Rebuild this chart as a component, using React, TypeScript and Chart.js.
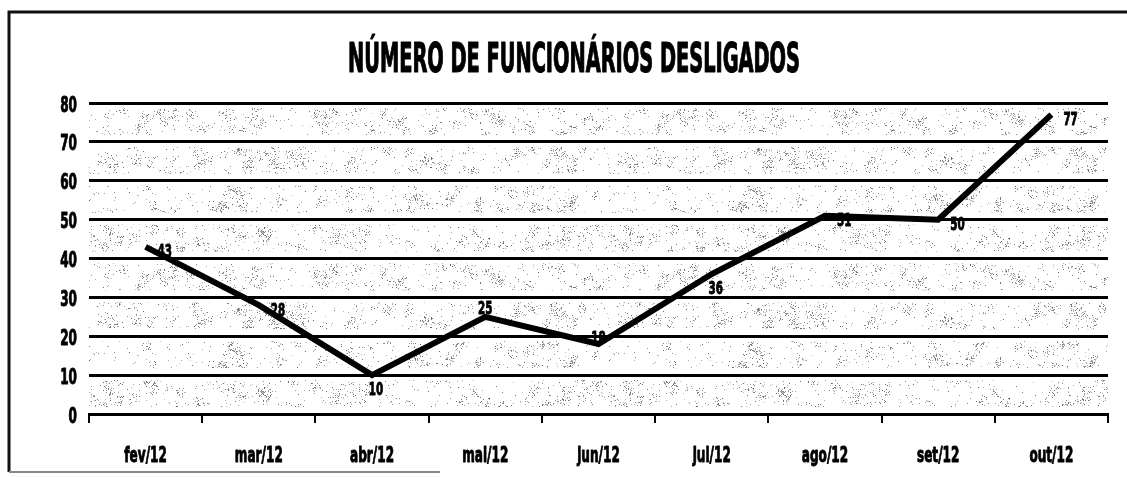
import React, { useEffect, useRef } from "react";
import { Chart, registerables } from "chart.js";

Chart.register(...registerables);

const TITLE = "NÚMERO DE FUNCIONÁRIOS DESLIGADOS";
const categories = ["fev/12", "mar/12", "abr/12", "mai/12", "jun/12", "jul/12", "ago/12", "set/12", "out/12"];
const desligados = [43, 28, 10, 25, 18, 36, 51, 50, 77];
const yMin = 0;
const yMax = 80;
const yStep = 10;

const FONT = "'Liberation Sans Narrow', 'DejaVu Sans Condensed', 'Arial Narrow', sans-serif";
const SX = 0.64; // horizontal squeeze of the small labels (style)
// where each value label sits relative to its point (style only)
const labelPlacement = ["right", "right", "below", "above", "center", "below", "right", "right", "right"];

function makeSpeckle(ctx: CanvasRenderingContext2D) {
  const W = 520;
  const H = 160;
  const tile = document.createElement("canvas");
  tile.width = W;
  tile.height = H;
  const t = tile.getContext("2d")!;
  let s = 987654321;
  const rnd = () => {
    s = (Math.imul(s, 1103515245) + 12345) >>> 0;
    return s / 4294967296;
  };
  const dot = (x: number, y: number) => {
    const g = 100 + Math.floor(rnd() * 100);
    t.fillStyle = `rgb(${g},${g},${g})`;
    t.fillRect(((Math.floor(x) % W) + W) % W, ((Math.floor(y) % H) + H) % H, 1, 1);
  };
  for (let c = 0; c < 300; c++) {
    const cx = rnd() * W;
    const cy = rnd() * H;
    const n = 6 + Math.floor(rnd() * 14);
    for (let k = 0; k < n; k++) {
      dot(cx + (rnd() + rnd() - 1) * 7, cy + (rnd() + rnd() - 1) * 7);
    }
  }
  for (let i = 0; i < 1400; i++) dot(rnd() * W, rnd() * H);
  return ctx.createPattern(tile, "repeat");
}

function squeezedText(ctx: CanvasRenderingContext2D, text: string, x: number, y: number, align: CanvasTextAlign, sx: number, bold = 0.9) {
  ctx.save();
  ctx.translate(x, y);
  ctx.scale(sx, 1);
  ctx.textAlign = align;
  ctx.textBaseline = "alphabetic";
  ctx.fillText(text, 0, 0);
  if (bold > 0) {
    ctx.lineWidth = bold;
    ctx.strokeStyle = "#000";
    ctx.lineJoin = "round";
    ctx.strokeText(text, 0, 0);
  }
  ctx.restore();
}

const framePlugin = {
  id: "frame",
  beforeDraw(chart: any) {
    const { ctx, chartArea, width, height } = chart;
    const y = chart.scales.y;
    ctx.save();
    ctx.fillStyle = "#ffffff";
    ctx.fillRect(0, 0, width, height);
    const pat = makeSpeckle(ctx);
    if (pat) {
      ctx.fillStyle = pat;
      for (let v = yMin; v < yMax; v += yStep) {
        const top = y.getPixelForValue(v + yStep);
        const bot = y.getPixelForValue(v);
        ctx.fillRect(chartArea.left, top + 5, chartArea.right - chartArea.left, bot - top - 12);
      }
    }
    ctx.strokeStyle = "#111";
    ctx.lineWidth = 3;
    ctx.beginPath();
    ctx.moveTo(width, 12);
    ctx.lineTo(9, 12);
    ctx.lineTo(9, 472);
    ctx.stroke();
    ctx.strokeStyle = "#888";
    ctx.lineWidth = 2;
    ctx.beginPath();
    ctx.moveTo(9, 472);
    ctx.lineTo(440, 472);
    ctx.stroke();
    ctx.restore();
  },
  afterDraw(chart: any) {
    const { ctx } = chart;
    const xs = chart.scales.x;
    const ys = chart.scales.y;
    ctx.save();
    ctx.fillStyle = "#000";
    // title
    ctx.font = `bold 40px ${FONT}`;
    const w = ctx.measureText(TITLE).width;
    squeezedText(ctx, TITLE, 574, 72, "center", Math.min(1, 452 / w), 1.2);
    // axis tick labels
    ctx.font = `bold 21px ${FONT}`;
    chart.data.labels.forEach((lab: string, i: number) => {
      squeezedText(ctx, lab, xs.getPixelForTick(i), 462, "center", SX);
    });
    ys.ticks.forEach((t: any) => {
      squeezedText(ctx, String(t.value), 77, ys.getPixelForValue(t.value) + 8.5, "right", SX);
    });
    ctx.restore();
  },
};

const valueLabelPlugin = {
  id: "valueLabels",
  afterDatasetsDraw(chart: any) {
    const { ctx } = chart;
    const meta = chart.getDatasetMeta(0);
    ctx.save();
    ctx.font = `bold 18px ${FONT}`;
    ctx.fillStyle = "#000";
    meta.data.forEach((pt: any, i: number) => {
      const text = String(chart.data.datasets[0].data[i]);
      const p = labelPlacement[i];
      if (p === "right") squeezedText(ctx, text, pt.x + 12, pt.y + 10.5, "left", SX);
      else if (p === "below") squeezedText(ctx, text, pt.x + 4, pt.y + 19.5, "center", SX);
      else if (p === "above") squeezedText(ctx, text, pt.x, pt.y - 2.5, "center", SX);
      else squeezedText(ctx, text, pt.x, pt.y - 0.5, "center", SX);
    });
    ctx.restore();
  },
};

export default function App() {
  const ref = useRef<HTMLCanvasElement | null>(null);

  useEffect(() => {
    document.body.style.margin = "0";
    if (!ref.current) return;
    const chart = new Chart(ref.current, {
      type: "line",
      data: {
        labels: categories,
        datasets: [
          {
            data: desligados,
            borderColor: "#000",
            borderWidth: 6,
            pointRadius: 0,
            tension: 0,
            fill: false,
            borderJoinStyle: "miter",
          },
        ],
      },
      options: {
        animation: false,
        responsive: false,
        events: [],
        layout: { padding: { top: 103, right: 19, bottom: 0, left: 0 } },
        plugins: {
          legend: { display: false },
          tooltip: { enabled: false },
          title: { display: false },
        },
        scales: {
          x: {
            type: "category",
            offset: true,
            grid: {
              offset: true,
              drawOnChartArea: false,
              drawTicks: true,
              tickLength: 9,
              color: "#000",
              lineWidth: 2,
            },
            border: { display: true, color: "#000", width: 3 },
            ticks: { display: false },
            afterFit(scale: any) {
              scale.height = 63;
            },
          },
          y: {
            min: yMin,
            max: yMax,
            ticks: { stepSize: yStep, display: false },
            grid: { color: "#000", lineWidth: 3, drawTicks: false },
            border: { display: false },
            afterFit(scale: any) {
              scale.width = 89;
            },
          },
        },
      },
      plugins: [framePlugin, valueLabelPlugin],
    });
    return () => chart.destroy();
  }, []);

  return (
    <div style={{ position: "absolute", left: 0, top: 0, width: 1127, height: 477 }}>
      <canvas ref={ref} width={1127} height={477} />
    </div>
  );
}
